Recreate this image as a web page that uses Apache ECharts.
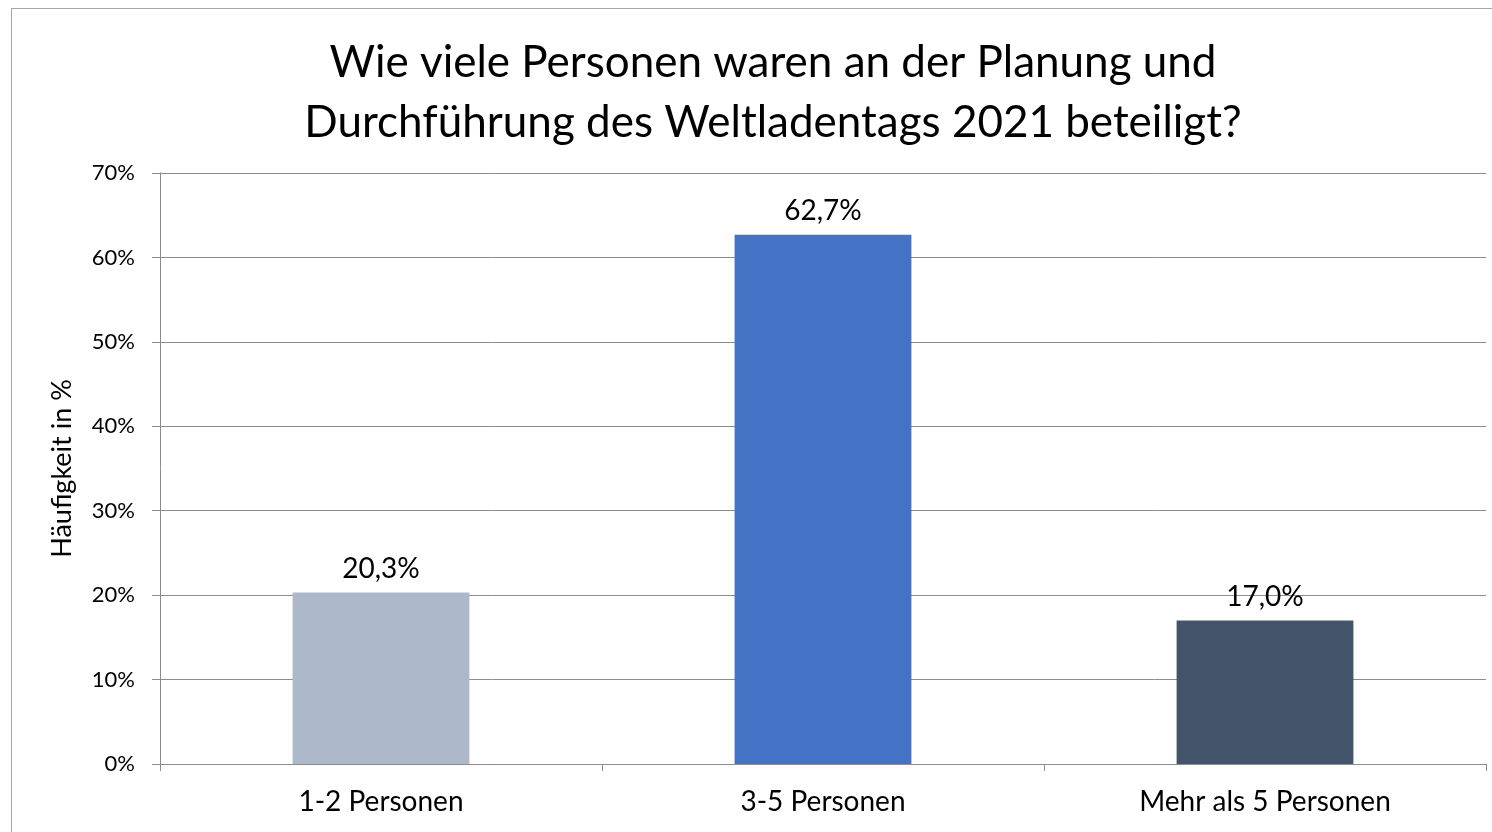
<!DOCTYPE html>
<html>
<head>
<meta charset="utf-8">
<script src="https://cdn.jsdelivr.net/npm/echarts@6/dist/echarts.min.js"></script>
<style>
  html, body { margin: 0; padding: 0; background: #fff; overflow: hidden; }
  #main { width: 1492px; height: 832px; }
  #frame { position: fixed; left: 11px; top: 8px; right: 0; bottom: 0;
           border-left: 1px solid #a6a6a6; border-top: 1px solid #a6a6a6; pointer-events: none; }
</style>
</head>
<body>
<div id="main"></div>
<div id="frame"></div>
<script>
// chart data
var categories = ['1-2 Personen', '3-5 Personen', 'Mehr als 5 Personen'];
var values = [20.3, 62.7, 17.0];
var barColors = ['#adb9ca', '#4472c4', '#44546a'];
var yTicks = [0, 10, 20, 30, 40, 50, 60, 70];

var myChart = echarts.init(document.getElementById('main'));

var option = {
  animation: false,
  textStyle: { fontFamily: 'Lato' },
  title: {
    text: 'Wie viele Personen waren an der Planung und\nDurchführung des Weltladentags 2021 beteiligt?',
    left: 768,
    textAlign: 'center',
    top: 28,
    textStyle: {
      fontFamily: 'Lato',
      fontWeight: 'normal',
      fontSize: 44,
      lineHeight: 60,
      color: '#000'
    }
  },
  grid: {
    left: 160,
    right: 6,
    top: 173,
    bottom: 68
  },
  xAxis: {
    type: 'category',
    data: categories,
    axisLine: { lineStyle: { color: '#8c8c8c', width: 1 } },
    axisTick: { show: true, length: 7, lineStyle: { color: '#8c8c8c' } },
    axisLabel: { color: '#000', fontSize: 28, margin: 24 }
  },
  yAxis: {
    type: 'value',
    min: yTicks[0],
    max: yTicks[yTicks.length - 1],
    interval: 10,
    name: 'Häufigkeit in %',
    nameLocation: 'middle',
    nameGap: 84,
    nameTextStyle: { color: '#000', fontSize: 27 },
    axisLine: { show: true, lineStyle: { color: '#8c8c8c' } },
    axisTick: { show: true, length: 8, lineStyle: { color: '#8c8c8c' } },
    axisLabel: {
      color: '#000',
      fontSize: 22,
      margin: 25,
      formatter: function (v) { return v + '%'; }
    },
    splitLine: { lineStyle: { color: '#8c8c8c', width: 1 } }
  },
  series: [{
    type: 'bar',
    barWidth: '40%',
    data: values.map(function (v, i) {
      return { value: v, itemStyle: { color: barColors[i] } };
    }),
    label: {
      show: true,
      position: 'top',
      distance: 10,
      color: '#000',
      fontSize: 28,
      formatter: function (p) { return p.value.toFixed(1).replace('.', ',') + '%'; }
    }
  }]
};

myChart.setOption(option);
</script>
</body>
</html>
